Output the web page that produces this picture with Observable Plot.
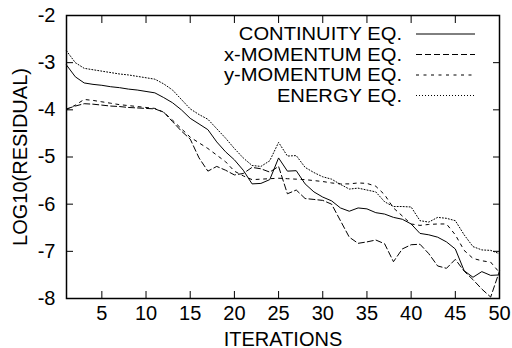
<!DOCTYPE html>
<html><head><meta charset="utf-8">
<script src="https://cdn.jsdelivr.net/npm/d3@7"></script>
<script src="https://cdn.jsdelivr.net/npm/@observablehq/plot@0.6"></script>
<style>body{margin:0;background:#fff} svg{display:block}</style>
</head><body><div id="chart"></div>
<script>
const iterations = [1,2,3,4,5,6,7,8,9,10,11,12,13,14,15,16,17,18,19,20,21,22,23,24,25,26,27,28,29,30,31,32,33,34,35,36,37,38,39,40,41,42,43,44,45,46,47,48,49,50];
const continuity = [-3.05,-3.30,-3.43,-3.46,-3.48,-3.51,-3.53,-3.56,-3.58,-3.61,-3.64,-3.74,-3.85,-4.00,-4.18,-4.30,-4.42,-4.68,-4.89,-5.06,-5.28,-5.57,-5.56,-5.48,-5.02,-5.30,-5.29,-5.57,-5.74,-5.85,-5.93,-6.08,-6.15,-6.08,-6.10,-6.18,-6.21,-6.28,-6.32,-6.42,-6.62,-6.65,-6.70,-6.80,-6.95,-7.41,-7.55,-7.43,-7.51,-7.50];
const xMomentum = [-3.98,-3.92,-3.87,-3.88,-3.90,-3.92,-3.93,-3.95,-3.96,-3.97,-3.98,-4.05,-4.25,-4.45,-4.62,-5.02,-5.30,-5.20,-5.28,-5.38,-5.35,-5.22,-5.25,-5.32,-5.20,-5.78,-5.70,-5.88,-5.90,-5.92,-6.00,-6.35,-6.70,-6.83,-6.80,-6.76,-6.84,-7.22,-6.95,-6.86,-6.85,-7.05,-7.31,-7.36,-7.17,-7.42,-7.60,-7.80,-7.97,-7.42];
const yMomentum = [-4.00,-3.90,-3.78,-3.80,-3.83,-3.86,-3.89,-3.91,-3.93,-3.95,-3.97,-4.05,-4.22,-4.40,-4.58,-4.70,-4.82,-4.96,-5.10,-5.30,-5.40,-5.48,-5.47,-5.46,-5.45,-5.46,-5.47,-5.48,-5.50,-5.52,-5.55,-5.57,-5.57,-5.55,-5.56,-5.62,-5.80,-6.08,-6.25,-6.42,-6.45,-6.43,-6.42,-6.42,-6.65,-6.98,-7.15,-7.20,-7.23,-7.45];
const energy = [-2.75,-3.00,-3.12,-3.15,-3.18,-3.21,-3.24,-3.26,-3.29,-3.32,-3.35,-3.45,-3.58,-3.78,-3.98,-4.10,-4.20,-4.40,-4.60,-4.82,-5.02,-5.18,-5.20,-5.08,-4.69,-4.98,-4.97,-5.22,-5.33,-5.42,-5.47,-5.58,-5.68,-5.66,-5.70,-5.74,-5.95,-6.05,-6.05,-6.06,-6.35,-6.38,-6.28,-6.30,-6.35,-6.65,-6.90,-6.97,-6.98,-7.05];
const seriesNames = ["CONTINUITY EQ.", "x-MOMENTUM EQ.", "y-MOMENTUM EQ.", "ENERGY EQ."];
const seriesValues = [continuity, xMomentum, yMomentum, energy];
const seriesDash = [null, "6,3", "3,4.5", "1,2"];
const xTicks = [5,10,15,20,25,30,35,40,45,50];
const yTicks = [-2,-3,-4,-5,-6,-7,-8];

const rows = [];
seriesNames.forEach((name, s) => iterations.forEach((it, i) => rows.push({series: name, it, v: seriesValues[s][i]})));

const font = "'Liberation Sans', Arial, sans-serif";
const lineMarks = seriesNames.map((name, s) => Plot.line(rows.filter(r => r.series === name), {
  x: "it", y: "v", stroke: "black", strokeWidth: 1, strokeDasharray: seriesDash[s]
}));

const plot = Plot.plot({
  width: 512, height: 348,
  marginLeft: 66, marginRight: 13, marginTop: 15, marginBottom: 50,
  style: {fontFamily: font, fontSize: "20px", color: "black", background: "white"},
  x: {domain: [1, 50]},
  y: {domain: [-8, -2]},
  marks: [
    ...lineMarks,
    Plot.axisX({anchor: "bottom", ticks: xTicks, tickSize: -7, tickPadding: 14, tickFormat: d => String(d), label: "ITERATIONS", labelAnchor: "center", labelOffset: 47, labelArrow: "none"}),
    Plot.axisX({anchor: "top", ticks: xTicks, tickSize: -7, tickFormat: () => "", label: null}),
    Plot.axisY({anchor: "left", ticks: yTicks, tickSize: -7, tickPadding: 18, tickFormat: d => String(d), label: "LOG10(RESIDUAL)", labelAnchor: "center", labelOffset: 54, labelArrow: "none"}),
    Plot.axisY({anchor: "right", ticks: yTicks, tickSize: -7, tickFormat: () => "", label: null}),
    Plot.frame({stroke: "black", strokeWidth: 1.5})
  ]
});
document.getElementById("chart").appendChild(plot);

// in-plot legend (top right)
const svg = d3.select(plot);
const lg = svg.append("g").attr("font-family", font).attr("font-size", 18);
seriesNames.forEach((name, s) => {
  const yy = 34 + s * 20.5;
  lg.append("text").attr("transform", `translate(402,${yy}) scale(1.12,1)`).attr("dy", "0.36em")
    .attr("text-anchor", "end").attr("fill", "black").text(name);
  lg.append("line").attr("x1", 416).attr("x2", 475).attr("y1", yy).attr("y2", yy)
    .attr("stroke", "black").attr("stroke-width", 1).attr("stroke-dasharray", seriesDash[s]);
});
</script></body></html>
